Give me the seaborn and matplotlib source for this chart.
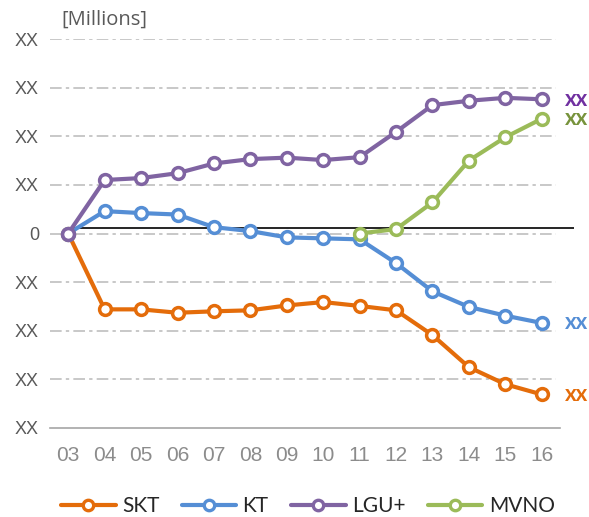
import numpy as np
import pandas as pd
import matplotlib
matplotlib.use("Agg")
import matplotlib.pyplot as plt
from matplotlib.lines import Line2D
import seaborn as sns

years = ["03", "04", "05", "06", "07", "08", "09", "10", "11", "12", "13", "14", "15", "16"]
skt = [0.0, -1.56, -1.56, -1.63, -1.60, -1.58, -1.48, -1.41, -1.49, -1.58, -2.09, -2.75, -3.10, -3.31]
kt = [0.0, 0.46, 0.42, 0.39, 0.13, 0.05, -0.08, -0.10, -0.12, -0.61, -1.19, -1.51, -1.69, -1.84]
lgu = [0.0, 1.10, 1.14, 1.24, 1.44, 1.53, 1.56, 1.51, 1.57, 2.09, 2.64, 2.73, 2.79, 2.76]
mvno = [None, None, None, None, None, None, None, None, 0.0, 0.09, 0.64, 1.50, 1.98, 2.36]
series_names = ["SKT", "KT", "LGU+", "MVNO"]
y_ticks = [-4, -3, -2, -1, 0, 1, 2, 3, 4]
y_ticklabels = ["XX", "XX", "XX", "XX", "0", "XX", "XX", "XX", "XX"]
end_labels = ["xx", "xx", "xx", "xx"]
ref_level = 0.11

line_colors = ["#E46C0A", "#558ED5", "#8064A2", "#9BBB59"]
label_colors = ["#E46C0A", "#558ED5", "#7030A0", "#77933C"]

rows = []
for name, vals in zip(series_names, [skt, kt, lgu, mvno]):
    for i, v in enumerate(vals):
        if v is not None:
            rows.append({"x": i, "value": v, "series": name})
df = pd.DataFrame(rows)

sns.set_theme(style="white")
plt.rcParams["font.family"] = ["Liberation Sans", "DejaVu Sans"]

fig = plt.figure(figsize=(5.89, 5.17), dpi=100)
ax = fig.add_axes([50 / 589, 1 - 428 / 517, 510 / 589, 389 / 517])

# gridlines
for t in y_ticks[1:]:
    ax.axhline(t, color="#BFBFBF", lw=1.2, ls=(0, (7, 2.5, 2, 2.5)), zorder=0, xmin=0, xmax=0.992)

# black reference line
ax.hlines(ref_level, 0, 13.88, color="black", lw=1.2, zorder=1, clip_on=False)

sns.lineplot(data=df, x="x", y="value", hue="series", hue_order=series_names,
             palette=line_colors, marker="o", markersize=8.5, markerfacecolor="white",
             markeredgewidth=2.5, linewidth=3, legend=False, ax=ax, zorder=3)
for ln, c in zip(ax.get_lines()[-4:], line_colors):
    ln.set_markeredgecolor(c)
    ln.set_clip_on(False)

ax.set_xlim(-0.5, 13.5)
ax.set_ylim(-4, 4)
ax.set_xticks(range(len(years)))
ax.set_xticklabels(years, color="#8C8C8C", fontsize=15)
ax.set_xticks(np.arange(-0.5, 13.6, 1), minor=True)
ax.tick_params(axis="x", which="major", length=0, pad=13)
ax.tick_params(axis="x", which="minor", length=5, color="#A6A6A6", width=1.2, direction="out")
ax.set_yticks(y_ticks)
ax.set_yticklabels(y_ticklabels, color="#595959", fontsize=13)
ax.tick_params(axis="y", length=0, pad=8)
ax.set_xlabel("")
ax.set_ylabel("")
for s in ["top", "right", "left"]:
    ax.spines[s].set_visible(False)
ax.spines["bottom"].set_color("#A6A6A6")
ax.spines["bottom"].set_linewidth(1.2)

# end labels
for vals, lab, c in zip([skt, kt, lgu, mvno], end_labels, label_colors):
    ax.annotate(lab, xy=(13, vals[-1]), xytext=(17, 0), textcoords="offset points",
                color=c, fontsize=16, fontweight="bold", va="center", ha="left",
                family=["Lato", "DejaVu Sans"], annotation_clip=False)

fig.text(61 / 589, 1 - 20 / 517, "[Millions]", color="#595959", fontsize=14.5, va="center",
         ha="left", family=["Open Sans", "DejaVu Sans"])

handles = [Line2D([0], [0], color=c, lw=3, marker="o", markersize=7.5, markerfacecolor="white",
                  markeredgecolor=c, markeredgewidth=2.4) for c in line_colors]
fig.legend(handles, series_names, loc="center", bbox_to_anchor=(308 / 589, 1 - 506 / 517),
           ncol=4, frameon=False, prop={"family": ["Lato", "DejaVu Sans"], "size": 15},
           handlelength=2.6, handletextpad=0.3, columnspacing=1.1, borderpad=0, borderaxespad=0)

fig.savefig("out.png", dpi=100)
